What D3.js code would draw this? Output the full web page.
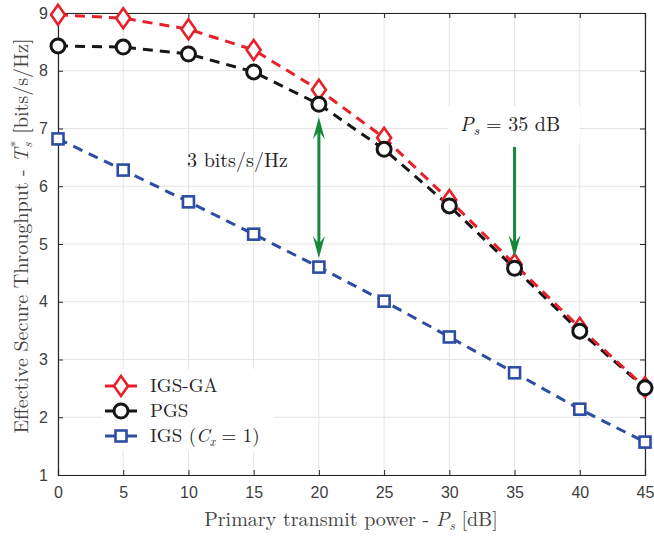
<!DOCTYPE html>
<html><head><meta charset="utf-8">
<script src="https://cdn.jsdelivr.net/npm/d3@7"></script>
<style>body{margin:0;background:#fff}svg{display:block}</style>
</head><body>
<script>
const xValues = [0,5,10,15,20,25,30,35,40,45];
const igsGA = [8.97,8.91,8.72,8.36,7.67,6.84,5.76,4.65,3.55,2.52];
const pgs   = [8.43,8.41,8.29,7.98,7.42,6.64,5.66,4.58,3.49,2.51];
const igs   = [6.82,6.28,5.73,5.17,4.60,4.01,3.39,2.77,2.14,1.57];
const xTicks = [0,5,10,15,20,25,30,35,40,45];
const yTicks = [1,2,3,4,5,6,7,8,9];

const W=654,H=537;
const m={l:58,r:9,t:13,b:62};
const svg=d3.select("body").append("svg").attr("width",W).attr("height",H);
const x=d3.scaleLinear().domain([0,45]).range([m.l,W-m.r]);
const y=d3.scaleLinear().domain([1,9]).range([H-m.b,m.t]);

// grid
const g=svg.append("g");
g.selectAll(".gx").data(xTicks).enter().append("line")
 .attr("x1",d=>x(d)).attr("x2",d=>x(d)).attr("y1",y(1)).attr("y2",y(9))
 .attr("stroke","#e3e3e3").attr("stroke-width",1);
g.selectAll(".gy").data(yTicks).enter().append("line")
 .attr("y1",d=>y(d)).attr("y2",d=>y(d)).attr("x1",x(0)).attr("x2",x(45))
 .attr("stroke","#e3e3e3").attr("stroke-width",1);

// axes
const tickFont="'Liberation Sans', Arial, sans-serif";
const ax=svg.append("g").attr("transform",`translate(0,${y(1)})`)
 .call(d3.axisBottom(x).tickValues(xTicks).tickSize(-5).tickPadding(12));
const ay=svg.append("g").attr("transform",`translate(${x(0)},0)`)
 .call(d3.axisLeft(y).tickValues(yTicks).tickSize(-5).tickPadding(10));
const at=svg.append("g").attr("transform",`translate(0,${y(9)})`)
 .call(d3.axisTop(x).tickValues(xTicks).tickSize(-5).tickFormat(""));
const ar=svg.append("g").attr("transform",`translate(${x(45)},0)`)
 .call(d3.axisRight(y).tickValues(yTicks).tickSize(-5).tickFormat(""));
[ax,ay,at,ar].forEach(a=>{
  a.selectAll("path").attr("stroke","#262626").attr("stroke-width",1.2);
  a.selectAll("line").attr("stroke","#262626");
  a.selectAll("text").attr("font-family",tickFont).attr("font-size",16).attr("fill","#404040");
});

// series
const line=d3.line().x((d,i)=>x(xValues[i])).y(d=>y(d));
const series=[
 {name:"IGS-GA",data:igsGA,color:"#e8202a",marker:"diamond"},
 {name:"PGS",data:pgs,color:"#161616",marker:"circle"},
 {name:"IGS",data:igs,color:"#2c4da3",marker:"square"}
];
function drawMarker(sel,type,color){
  if(type==="diamond"){
    sel.append("path").attr("d","M0,-10 L7,0 L0,10 L-7,0 Z")
      .attr("fill","#fff").attr("stroke",color).attr("stroke-width",2.6);
  }else if(type==="circle"){
    sel.append("circle").attr("r",7).attr("fill","#fff").attr("stroke",color).attr("stroke-width",3);
  }else{
    sel.append("rect").attr("x",-5.5).attr("y",-5.5).attr("width",11).attr("height",11)
      .attr("fill","#fff").attr("stroke",color).attr("stroke-width",2.6);
  }
}
[series[2],series[1],series[0]].forEach(s=>{
  svg.append("path").datum(s.data).attr("d",line).attr("fill","none")
    .attr("stroke",s.color).attr("stroke-width",3).attr("stroke-dasharray","10,7");
});
[series[2],series[0],series[1]].forEach(s=>{
  s.data.forEach((d,i)=>{
    const mk=svg.append("g").attr("transform",`translate(${x(xValues[i])},${y(d)})`);
    drawMarker(mk,s.marker,s.color);
  });
});

// arrows
const green="#17873a";
function arrowHead(px,py,dir){
  const L=22,w=6,n=8;
  svg.append("path").attr("d",`M${px},${py} L${px-w},${py-dir*L} L${px},${py-dir*(L-n)} L${px+w},${py-dir*L} Z`)
    .attr("fill",green);
}
const a1x=x(20), a1top=y(pgs[4])+13, a1bot=y(igs[4])-9;
svg.append("line").attr("x1",a1x).attr("x2",a1x).attr("y1",a1top+10).attr("y2",a1bot-10)
  .attr("stroke",green).attr("stroke-width",3);
arrowHead(a1x,a1top,-1); arrowHead(a1x,a1bot,1);
const a2x=x(35), a2bot=y(pgs[7])-11;
svg.append("rect").attr("x",448).attr("y",106).attr("width",132).attr("height",37).attr("fill","#fff");
svg.append("line").attr("x1",a2x).attr("x2",a2x).attr("y1",147).attr("y2",a2bot-10)
  .attr("stroke",green).attr("stroke-width",3);
arrowHead(a2x,a2bot,1);

const serif="'Latin Modern Roman','CMU Serif','Liberation Serif','DejaVu Serif',serif";
svg.append("text").attr("x",187).attr("y",167).attr("font-family",serif).attr("font-size",20)
  .attr("fill","#222").text("3 bits/s/Hz");
const t2=svg.append("text").attr("x",460).attr("y",131).attr("font-family",serif).attr("font-size",20)
  .attr("fill","#222");
t2.append("tspan").attr("font-style","italic").text("P");
t2.append("tspan").attr("font-style","italic").attr("font-size",14).attr("dy",4).text("s");
t2.append("tspan").attr("dy",-4).text(" = 35 dB");

// legend
svg.append("rect").attr("x",102).attr("y",369).attr("width",172).attr("height",82).attr("fill","#fff");
const leg=[{s:series[0],label:"IGS-GA",y:386},{s:series[1],label:"PGS",y:411},{s:series[2],label:"IGS",y:436}];
leg.forEach(l=>{
  svg.append("line").attr("x1",105).attr("x2",137).attr("y1",l.y).attr("y2",l.y)
    .attr("stroke",l.s.color).attr("stroke-width",3);
  const mk=svg.append("g").attr("transform",`translate(${121},${l.y})`);
  drawMarker(mk,l.s.marker,l.s.color);
  const t=svg.append("text").attr("x",150).attr("y",l.y+6).attr("font-family",serif).attr("font-size",19).attr("fill","#222");
  if(l.label==="IGS"){
    t.append("tspan").text("IGS (");
    t.append("tspan").attr("font-style","italic").text("C");
    t.append("tspan").attr("font-style","italic").attr("font-size",12).attr("dy",4).text("x");
    t.append("tspan").attr("dy",-4).text(" = 1)");
  } else t.text(l.label);
});

// axis labels
const xl=svg.append("text").attr("x",351).attr("y",526).attr("text-anchor","middle")
  .attr("font-family",serif).attr("font-size",20).attr("fill","#444");
xl.append("tspan").text("Primary transmit power - ");
xl.append("tspan").attr("font-style","italic").text("P");
xl.append("tspan").attr("font-style","italic").attr("font-size",13).attr("dy",4).text("s");
xl.append("tspan").attr("dy",-4).text(" [dB]");

const yl=svg.append("text").attr("transform",`translate(28,236) rotate(-90)`)
  .attr("text-anchor","middle").attr("font-family",serif).attr("font-size",20).attr("fill","#444");
yl.append("tspan").text("Effective Secure Throughput - ");
yl.append("tspan").attr("font-style","italic").text("T");
yl.append("tspan").attr("font-size",13).attr("dx",1).attr("dy",-8).text("*");
yl.append("tspan").attr("font-style","italic").attr("font-size",13).attr("dx",-7).attr("dy",12).text("s");
yl.append("tspan").attr("dx",2).attr("dy",-4).text(" [bits/s/Hz]");
</script>
</body></html>
